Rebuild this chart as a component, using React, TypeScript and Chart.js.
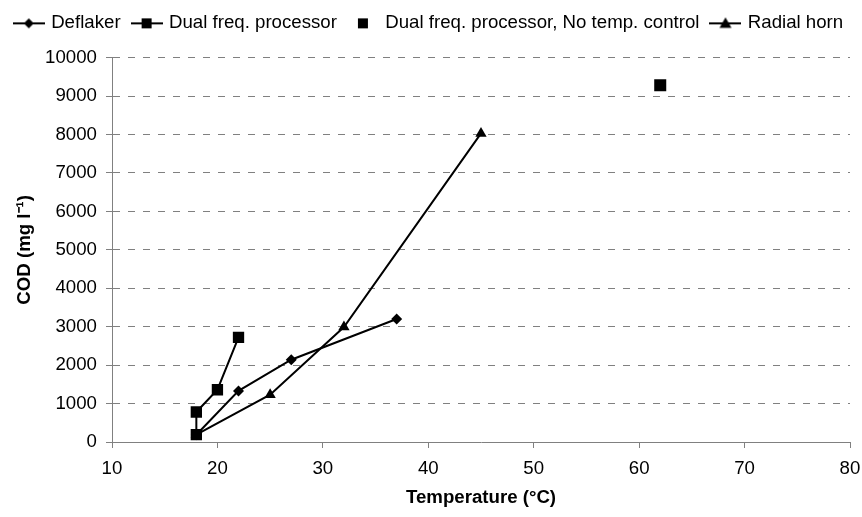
import React, { useEffect, useRef } from "react";
import { Chart, registerables } from "chart.js";

Chart.register(...registerables);

const deflakerX = [18, 22, 27, 37];
const deflakerY = [190, 1330, 2140, 3200];
const dualX = [18, 18, 20, 22];
const dualY = [190, 780, 1360, 2720];
const noTempX = [62];
const noTempY = [9280];
const radialX = [18, 25, 32, 45];
const radialY = [190, 1230, 2990, 8030];

const seriesNames = [
  "Deflaker",
  "Dual freq. processor",
  "Dual freq. processor, No temp. control",
  "Radial horn",
];

const FONT = "'Liberation Sans', Arial, Helvetica, sans-serif";
const FS = 18.67;
const GRAY = "#808080";

function pts(xs: number[], ys: number[]) {
  return xs.map((x, i) => ({ x, y: ys[i] }));
}

function makeIcon(kind: string, withLine: boolean) {
  const c = document.createElement("canvas");
  c.width = 32;
  c.height = 16;
  const g = c.getContext("2d")!;
  g.fillStyle = "#000";
  g.strokeStyle = "#000";
  const cx = 16, cy = 8;
  if (withLine) {
    g.lineWidth = 2;
    g.beginPath();
    g.moveTo(0, cy);
    g.lineTo(32, cy);
    g.stroke();
  }
  g.beginPath();
  if (kind === "diamond") {
    const r = 5;
    g.moveTo(cx, cy - r);
    g.lineTo(cx + r, cy);
    g.lineTo(cx, cy + r);
    g.lineTo(cx - r, cy);
    g.closePath();
  } else if (kind === "square") {
    g.rect(cx - 5, cy - 5, 10, 10);
  } else {
    g.moveTo(cx, cy - 6);
    g.lineTo(cx + 6, cy + 4.5);
    g.lineTo(cx - 6, cy + 4.5);
    g.closePath();
  }
  g.fill();
  return c;
}

const legendSpacer = {
  id: "legendSpacer",
  afterInit(chart: any) {
    const lg = chart.legend;
    if (!lg) return;
    const fit = lg.fit;
    lg.fit = function () {
      fit.call(this);
      this.height += 15;
    };
  },
};

export default function App() {
  const ref = useRef<HTMLCanvasElement>(null);
  useEffect(() => {
    document.body.style.margin = "0";
    const icons = [
      makeIcon("diamond", true),
      makeIcon("square", true),
      makeIcon("square", false),
      makeIcon("triangle", true),
    ];
    const chart = new Chart(ref.current!, {
      type: "scatter",
      data: {
        datasets: [
          {
            label: seriesNames[0],
            data: pts(deflakerX, deflakerY),
            showLine: true,
            borderColor: "#000",
            backgroundColor: "#000",
            borderWidth: 2,
            pointStyle: "rectRot",
            pointRadius: 5.5,
            pointBorderWidth: 0,
          },
          {
            label: seriesNames[1],
            data: pts(dualX, dualY),
            showLine: true,
            borderColor: "#000",
            backgroundColor: "#000",
            borderWidth: 2,
            pointStyle: "rect",
            pointRadius: 8,
            pointBorderWidth: 0,
          },
          {
            label: seriesNames[2],
            data: pts(noTempX, noTempY),
            showLine: false,
            borderColor: "#000",
            backgroundColor: "#000",
            borderWidth: 2,
            pointStyle: "rect",
            pointRadius: 8.5,
            pointBorderWidth: 0,
          },
          {
            label: seriesNames[3],
            data: pts(radialX, radialY),
            showLine: true,
            borderColor: "#000",
            backgroundColor: "#000",
            borderWidth: 2,
            pointStyle: "triangle",
            pointRadius: 6.5,
            pointBorderWidth: 0,
          },
        ],
      },
      plugins: [legendSpacer],
      options: {
        animation: false,
        responsive: false,
        layout: { padding: { left: 0, right: 3, top: 1, bottom: 8 } },
        plugins: {
          tooltip: { enabled: false },
          legend: {
            position: "top",
            labels: {
              usePointStyle: true,
              pointStyleWidth: 26,
              boxHeight: 16,
              padding: 13,
              color: "#000",
              font: { family: FONT, size: FS },
              generateLabels: (ch: any) =>
                Chart.defaults.plugins.legend.labels
                  .generateLabels(ch)
                  .map((l: any, i: number) => ({ ...l, pointStyle: icons[i] })),
            },
          },
        },
        scales: {
          x: {
            type: "linear",
            min: 10,
            max: 80,
            ticks: {
              stepSize: 10,
              color: "#000",
              font: { family: FONT, size: FS },
              padding: 10,
              callback: (v: any) => String(v),
            },
            grid: {
              drawOnChartArea: false,
              drawTicks: true,
              tickLength: 6,
              tickColor: GRAY,
              tickWidth: 1,
            },
            border: { color: GRAY, width: 1 },
            title: {
              display: true,
              text: "Temperature (°C)",
              color: "#000",
              font: { family: FONT, size: FS, weight: "bold" },
              padding: { top: 4, bottom: 0 },
            },
            afterFit: (s: any) => {
              s.height = 67;
              s.paddingRight = 12;
              s.paddingLeft = 0;
            },
          },
          y: {
            type: "linear",
            min: 0,
            max: 10000,
            ticks: {
              stepSize: 1000,
              color: "#000",
              font: { family: FONT, size: FS },
              padding: 9,
              callback: (v: any) => String(v),
            },
            grid: {
              color: GRAY,
              lineWidth: 1,
              tickLength: 6,
              tickColor: GRAY,
              tickWidth: 1,
              tickBorderDash: [],
            },
            border: { color: GRAY, width: 1, dash: [7, 8] },
            title: {
              display: true,
              text: "COD (mg l⁻¹)",
              color: "#000",
              font: { family: FONT, size: FS, weight: "bold" },
              padding: { top: 14, bottom: 0 },
            },
            afterFit: (s: any) => {
              s.width = 112;
            },
          },
        },
      },
    } as any);
    return () => chart.destroy();
  }, []);
  return <canvas ref={ref} width={862} height={517} style={{ display: "block" }} />;
}
